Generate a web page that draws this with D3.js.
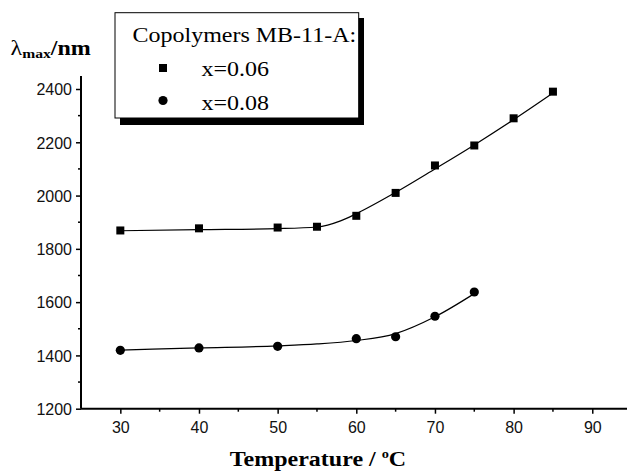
<!DOCTYPE html>
<html>
<head>
<meta charset="utf-8">
<script src="https://cdn.jsdelivr.net/npm/d3@7"></script>
<style>
  body { margin: 0; background: #fff; }
  svg { display: block; }
</style>
</head>
<body>
<svg id="chart" width="627" height="475"></svg>
<script>
// measured points
let temps06 = [30, 40, 50, 55, 60, 65, 70, 75, 80, 85]
let lambda06 = [1869, 1877, 1880, 1883, 1924, 2010, 2113, 2188, 2290, 2390]
let temps08 = [30, 40, 50, 60, 65, 70, 75]
let lambda08 = [1419, 1428, 1434, 1463, 1470, 1547, 1638]

// fitted curves
let fitT06 = [30, 40, 50, 55, 58, 60, 65, 70, 75, 80, 85]
let fitL06 = [1868, 1872, 1876, 1882, 1905, 1932, 2012, 2100, 2190, 2285, 2385]
let fitT08 = [30, 40, 50, 55, 60, 65, 70, 75]
let fitL08 = [1420, 1428, 1436, 1443, 1456, 1482, 1545, 1632]

let xTicks = [30, 40, 50, 60, 70, 80, 90]
let yTicks = [1200, 1400, 1600, 1800, 2000, 2200, 2400]

let svg = d3.select("#chart")

let x = d3.scaleLinear().domain([25, 95]).range([81, 631.6])
let y = d3.scaleLinear().domain([1200, 2400]).range([408.7, 89])

// axes
let xAxis = d3.axisBottom(x).tickValues(xTicks).tickSize(5).tickPadding(8).tickFormat(d3.format("d"))
let yAxis = d3.axisLeft(y).tickValues(yTicks).tickSize(5).tickPadding(4).tickFormat(d3.format("d"))

let gx = svg.append("g").attr("transform", "translate(0,408.7)").call(xAxis)
let gy = svg.append("g").attr("transform", "translate(81,0)").call(yAxis)

// minor ticks
let xMinor = d3.range(35, 95, 10)
let yMinor = d3.range(1300, 2500, 200)
svg.append("g").selectAll("line").data(xMinor).enter().append("line")
   .attr("x1", d => x(d)).attr("x2", d => x(d))
   .attr("y1", 408.7).attr("y2", 411.7)
   .attr("stroke", "#000").attr("stroke-width", 1.5)
svg.append("g").selectAll("line").data(yMinor).enter().append("line")
   .attr("x1", 78).attr("x2", 81)
   .attr("y1", d => y(d)).attr("y2", d => y(d))
   .attr("stroke", "#000").attr("stroke-width", 1.5)

gx.select(".domain").attr("d", `M81,0H627`).attr("stroke-width", 2)
gy.select(".domain").attr("d", `M0,${y(1200)}V76`).attr("stroke-width", 2)
gx.selectAll(".tick line").attr("stroke-width", 1.5)
gy.selectAll(".tick line").attr("stroke-width", 1.5)
gx.selectAll("text").attr("font-family", "Liberation Sans, Arial, sans-serif").attr("font-size", 16).attr("fill", "#111")
gy.selectAll("text").attr("font-family", "Liberation Sans, Arial, sans-serif").attr("font-size", 16).attr("fill", "#111").attr("dy", "0.36em")

// fitted lines
let line = d3.line().x(d => x(d[0])).y(d => y(d[1])).curve(d3.curveMonotoneX)
svg.append("path").datum(d3.zip(fitT06, fitL06)).attr("d", line)
   .attr("fill", "none").attr("stroke", "#000").attr("stroke-width", 1.2)
svg.append("path").datum(d3.zip(fitT08, fitL08)).attr("d", line)
   .attr("fill", "none").attr("stroke", "#000").attr("stroke-width", 1.2)

// markers
svg.append("g").selectAll("rect").data(d3.zip(temps06, lambda06)).enter().append("rect")
   .attr("x", d => x(d[0]) - 4).attr("y", d => y(d[1]) - 4)
   .attr("width", 8).attr("height", 8).attr("fill", "#000")
svg.append("g").selectAll("circle").data(d3.zip(temps08, lambda08)).enter().append("circle")
   .attr("cx", d => x(d[0])).attr("cy", d => y(d[1])).attr("r", 4.6).attr("fill", "#000")

// serif text in the original is stretched horizontally
let serif = "Liberation Serif, Times New Roman, serif"
let wideText = (px, py, size) => svg.append("text")
   .attr("transform", `translate(${px},${py}) scale(1.2,1)`)
   .attr("font-family", serif).attr("font-size", size)

// legend box with shadow
svg.append("rect").attr("x", 120).attr("y", 18).attr("width", 244).attr("height", 107).attr("fill", "#000")
svg.append("rect").attr("x", 115).attr("y", 12.7).attr("width", 243.7).attr("height", 105.3)
   .attr("fill", "#fff").attr("stroke", "#000").attr("stroke-width", 1)
wideText(132.5, 42, 20).text("Copolymers MB-11-A:")
svg.append("rect").attr("x", 159).attr("y", 64).attr("width", 8).attr("height", 8).attr("fill", "#000")
wideText(201.5, 76, 20).text("x=0.06")
svg.append("circle").attr("cx", 163).attr("cy", 100.5).attr("r", 4.6).attr("fill", "#000")
wideText(201.5, 110, 20).text("x=0.08")

// axis titles
let yl = wideText(10.5, 55, 20).attr("font-weight", "bold")
yl.append("tspan").attr("font-weight", "normal").text("λ")
yl.append("tspan").attr("font-size", 13).attr("dy", 2.5).text("max")
yl.append("tspan").attr("dy", -2.5).text("/nm")

let xl = wideText(318, 466, 20).attr("text-anchor", "middle").attr("font-weight", "bold")
xl.append("tspan").text("Temperature / ")
xl.append("tspan").attr("font-size", 12).attr("dy", -8).text("o")
xl.append("tspan").attr("dy", 8).text("C")
</script>
</body>
</html>
